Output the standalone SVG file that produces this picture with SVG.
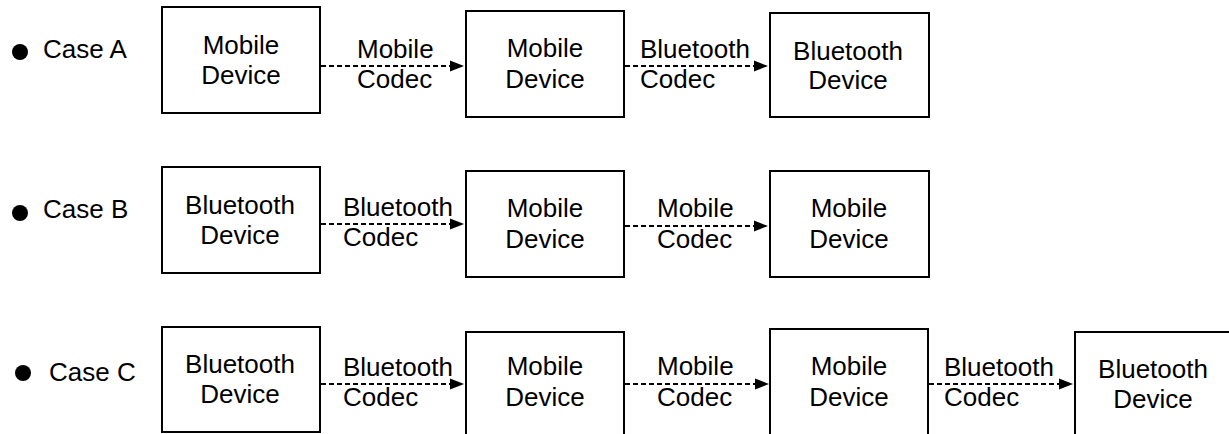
<svg xmlns="http://www.w3.org/2000/svg" width="1229" height="434" viewBox="0 0 1229 434">
  <style>
    .box { fill: #ffffff; stroke: #000000; stroke-width: 2; }
    .txt { font-family: "Liberation Sans", Arial, sans-serif; font-size: 26px; fill: #000000; }
    .mid { text-anchor: middle; }
    .link { fill: none; stroke: #000000; stroke-width: 2; stroke-dasharray: 5 3; marker-end: url(#arrow); }
    .dot { fill: #000000; }
  </style>
  <defs>
    <marker id="arrow" markerUnits="userSpaceOnUse" markerWidth="15" markerHeight="14" refX="14" refY="7" orient="auto">
      <path d="M0,1.5 L14,7 L0,12.5 Z" fill="#000000"/>
    </marker>
  </defs>
  <rect width="1229" height="434" fill="#ffffff"/>

  <!-- case captions -->
  <g id="case-a-label">
    <circle class="dot" cx="20" cy="52" r="8"/>
    <text class="txt" x="43" y="58">Case A</text>
  </g>
  <g id="case-b-label">
    <circle class="dot" cx="20" cy="213" r="8"/>
    <text class="txt" x="43" y="218">Case B</text>
  </g>
  <g id="case-c-label">
    <circle class="dot" cx="23" cy="373" r="8"/>
    <text class="txt" x="49" y="381">Case C</text>
  </g>

  <!-- Case A nodes -->
  <g id="a1">
    <rect class="box" x="162" y="7" width="158" height="106"/>
    <text class="txt mid" x="241" y="54">Mobile</text>
    <text class="txt mid" x="241" y="84">Device</text>
  </g>
  <g id="a2">
    <rect class="box" x="466" y="11" width="158" height="106"/>
    <text class="txt mid" x="545" y="57">Mobile</text>
    <text class="txt mid" x="545" y="88">Device</text>
  </g>
  <g id="a3">
    <rect class="box" x="770" y="13" width="159" height="104"/>
    <text class="txt mid" x="848" y="60">Bluetooth</text>
    <text class="txt mid" x="848" y="89">Device</text>
  </g>

  <!-- Case B nodes -->
  <g id="b1">
    <rect class="box" x="162" y="167" width="158" height="106"/>
    <text class="txt mid" x="240" y="214">Bluetooth</text>
    <text class="txt mid" x="240" y="244">Device</text>
  </g>
  <g id="b2">
    <rect class="box" x="466" y="171" width="158" height="106"/>
    <text class="txt mid" x="545" y="217">Mobile</text>
    <text class="txt mid" x="545" y="248">Device</text>
  </g>
  <g id="b3">
    <rect class="box" x="770" y="171" width="159" height="106"/>
    <text class="txt mid" x="849" y="217">Mobile</text>
    <text class="txt mid" x="849" y="248">Device</text>
  </g>

  <!-- Case C nodes -->
  <g id="c1">
    <rect class="box" x="162" y="327" width="158" height="105"/>
    <text class="txt mid" x="240" y="373">Bluetooth</text>
    <text class="txt mid" x="240" y="403">Device</text>
  </g>
  <g id="c2">
    <rect class="box" x="466" y="332" width="158" height="110"/>
    <text class="txt mid" x="545" y="375">Mobile</text>
    <text class="txt mid" x="545" y="406">Device</text>
  </g>
  <g id="c3">
    <rect class="box" x="770" y="329" width="158" height="113"/>
    <text class="txt mid" x="849" y="375">Mobile</text>
    <text class="txt mid" x="849" y="406">Device</text>
  </g>
  <g id="c4">
    <rect class="box" x="1075" y="332" width="160" height="110"/>
    <text class="txt mid" x="1153" y="378">Bluetooth</text>
    <text class="txt mid" x="1153" y="408">Device</text>
  </g>

  <!-- connectors with codec labels -->
  <g id="connectors">
    <line class="link" x1="321" y1="66" x2="464" y2="66"/>
    <text class="txt" x="357" y="58">Mobile</text>
    <text class="txt" x="357" y="88">Codec</text>

    <line class="link" x1="625" y1="66" x2="768" y2="66"/>
    <text class="txt" x="640" y="58">Bluetooth</text>
    <text class="txt" x="640" y="88">Codec</text>

    <line class="link" x1="321" y1="224" x2="464" y2="224"/>
    <text class="txt" x="343" y="216">Bluetooth</text>
    <text class="txt" x="343" y="246">Codec</text>

    <line class="link" x1="625" y1="226" x2="768" y2="226"/>
    <text class="txt" x="657" y="217">Mobile</text>
    <text class="txt" x="657" y="248">Codec</text>

    <line class="link" x1="321" y1="384" x2="464" y2="384"/>
    <text class="txt" x="343" y="376">Bluetooth</text>
    <text class="txt" x="343" y="406">Codec</text>

    <line class="link" x1="625" y1="384" x2="769" y2="384"/>
    <text class="txt" x="657" y="375">Mobile</text>
    <text class="txt" x="657" y="406">Codec</text>

    <line class="link" x1="929" y1="384" x2="1073" y2="384"/>
    <text class="txt" x="944" y="376">Bluetooth</text>
    <text class="txt" x="944" y="406">Codec</text>
  </g>
</svg>
